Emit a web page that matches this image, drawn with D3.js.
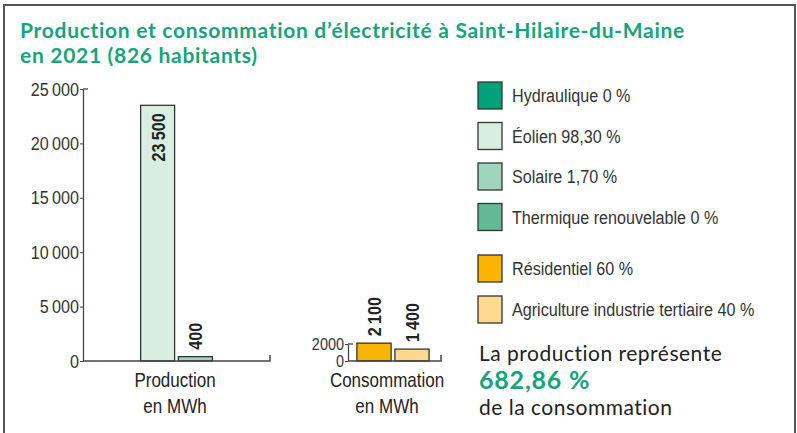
<!DOCTYPE html>
<html>
<head>
<meta charset="utf-8">
<script src="https://cdn.jsdelivr.net/npm/d3@7"></script>
<style>
  body { margin: 0; background: #fff; }
  svg { display: block; }
  .narrow { font-family: "Liberation Sans", Arial, sans-serif; }
</style>
</head>
<body>
<div id="chart"></div>
<script>
// production data (MWh)
const prodCategories = ["Hydraulique", "Éolien", "Solaire", "Thermique renouvelable"];
const prodValues = [0, 23500, 400, 0];
const prodShares = ["0 %", "98,30 %", "1,70 %", "0 %"];
const prodColors = ["#00a27a", "#d9eee2", "#9fd5bc", "#63b995"];
const prodTicks = [0, 5000, 10000, 15000, 20000, 25000];

// consumption data (MWh)
const consCategories = ["Résidentiel", "Agriculture industrie tertiaire"];
const consValues = [2100, 1400];
const consShares = ["60 %", "40 %"];
const consColors = ["#f8b400", "#fdd98f"];
const consTicks = [0, 2000];

const ratioText = "682,86 %";

const width = 797, height = 433;
const green = "#16a47c";
const squeeze = 0.85; // the original uses a condensed face
const fr = d3.formatLocale({decimal: ",", thousands: "\u202f", grouping: [3], currency: ["", " €"]});
const fmt = fr.format(",d");

const svg = d3.select("#chart").append("svg")
    .attr("width", width)
    .attr("height", height);

// frame
svg.append("rect")
    .attr("x", 4).attr("y", 5)
    .attr("width", 791).attr("height", 450)
    .attr("fill", "none")
    .attr("stroke", "#555")
    .attr("stroke-width", 2);

// title
const title = svg.append("text")
    .attr("x", 20).attr("y", 38)
    .attr("font-family", "Lato, sans-serif")
    .attr("font-weight", "bold")
    .attr("font-size", 21)
    .attr("letter-spacing", 0.7)
    .attr("fill", green);
title.append("tspan").attr("x", 20).text("Production et consommation d’électricité à Saint-Hilaire-du-Maine");
title.append("tspan").attr("x", 20).attr("dy", 25).text("en 2021 (826 habitants)");

const baseY = 361;

function drawPanel(opts) {
    const x = d3.scaleBand()
        .domain(opts.categories)
        .range(opts.xRange)
        .paddingInner(0.1)
        .paddingOuter(0.05);
    const y = d3.scaleLinear()
        .domain(opts.yDomain)
        .range([baseY, opts.yTop]);

    const g = svg.append("g");

    // axis
    const axis = d3.axisLeft(y)
        .tickValues(opts.ticks)
        .tickFormat(opts.tickFormat)
        .tickSize(3)
        .tickSizeOuter(0);
    const ax = g.append("g")
        .attr("transform", "translate(" + opts.axisX + ",0)")
        .call(axis);
    ax.select(".domain").attr("stroke", "#444").attr("stroke-width", 1.3);
    ax.selectAll(".tick line").attr("stroke", "#444");
    ax.selectAll(".tick text")
        .attr("class", "narrow")
        .attr("x", null)
        .attr("transform", "translate(-4,0) scale(" + squeeze + ",1)")
        .attr("font-size", opts.tickSize)
        .attr("fill", "#333");

    // top cap going right
    g.append("path")
        .attr("d", "M" + opts.axisX + "," + y(opts.yDomain[1]) + "h5")
        .attr("stroke", "#444").attr("stroke-width", 1.3).attr("fill", "none");

    // bars
    g.selectAll("rect.bar")
        .data(opts.values)
        .enter()
        .append("rect")
        .attr("class", "bar")
        .attr("x", (d, i) => x(opts.categories[i]))
        .attr("y", d => y(d))
        .attr("width", x.bandwidth())
        .attr("height", d => baseY - y(d))
        .attr("fill", (d, i) => opts.colors[i])
        .attr("stroke", "#333")
        .attr("stroke-width", d => d > 0 ? 1.3 : 0);

    // baseline with right end tick
    g.append("path")
        .attr("d", "M" + opts.axisX + "," + baseY + "H" + opts.baseEnd + "v-6")
        .attr("stroke", "#444").attr("stroke-width", 1.5).attr("fill", "none");

    // value labels, rotated
    g.selectAll("text.val")
        .data(opts.values)
        .enter()
        .filter(d => d > 0)
        .append("text")
        .attr("class", "val narrow")
        .attr("transform", function(d) {
            const i = opts.values.indexOf(d);
            const cx = x(opts.categories[i]) + x.bandwidth() / 2 + 7;
            const inside = (baseY - y(d)) > 80;
            const ly = inside ? y(d) + 8 : y(d) - 7;
            return "translate(" + cx + "," + ly + ") rotate(-90) scale(" + squeeze + ",1)";
        })
        .attr("text-anchor", d => (baseY - y(d)) > 80 ? "end" : "start")
        .attr("font-size", 19)
        .attr("font-weight", "bold")
        .attr("fill", "#222")
        .text(d => fmt(d));

    // category label
    const lab = g.append("text")
        .attr("class", "narrow")
        .attr("transform", "translate(" + opts.labelX + ",387) scale(" + squeeze + ",1)")
        .attr("text-anchor", "middle")
        .attr("font-size", 20)
        .attr("fill", "#222");
    lab.append("tspan").attr("x", 0).text(opts.label);
    lab.append("tspan").attr("x", 0).attr("dy", 26).text("en MWh");
}

drawPanel({
    categories: prodCategories, values: prodValues, colors: prodColors,
    ticks: prodTicks, tickFormat: d => fmt(d), tickSize: 19,
    xRange: [101, 252], yDomain: [0, 25000], yTop: 89,
    axisX: 83, baseEnd: 270, label: "Production", labelX: 175
});

drawPanel({
    categories: consCategories, values: consValues, colors: consColors,
    ticks: consTicks, tickFormat: d => String(d), tickSize: 17,
    xRange: [355, 431], yDomain: [0, 2000], yTop: 344,
    axisX: 348, baseEnd: 441, label: "Consommation", labelX: 387
});

// legend
function drawLegend(cats, shares, colors, y0, step) {
    const lg = svg.append("g");
    const rows = lg.selectAll("g")
        .data(cats)
        .enter()
        .append("g")
        .attr("transform", (d, i) => "translate(478," + (y0 + i * step) + ")");
    rows.append("rect")
        .attr("width", 24).attr("height", 27)
        .attr("fill", (d, i) => colors[i])
        .attr("stroke", "#333").attr("stroke-width", 1.3);
    rows.append("text")
        .attr("class", "narrow")
        .attr("transform", "translate(34,20) scale(" + squeeze + ",1)")
        .attr("font-size", 19)
        .attr("fill", "#333")
        .text((d, i) => d + " " + shares[i]);
}
drawLegend(prodCategories, prodShares, prodColors, 82, 40.5);
drawLegend(consCategories, consShares, consColors, 255, 41);

// ratio text
const rt = svg.append("g").attr("font-family", "Lato, sans-serif").attr("letter-spacing", 0.5);
rt.append("text").attr("x", 479).attr("y", 361)
    .attr("font-size", 21).attr("fill", "#222")
    .text("La production représente");
rt.append("text").attr("x", 479).attr("y", 389)
    .attr("font-size", 25).attr("font-weight", "bold").attr("letter-spacing", 0.8).attr("fill", green)
    .text(ratioText);
rt.append("text").attr("x", 479).attr("y", 415)
    .attr("font-size", 21).attr("fill", "#222")
    .text("de la consommation");
</script>
</body>
</html>
